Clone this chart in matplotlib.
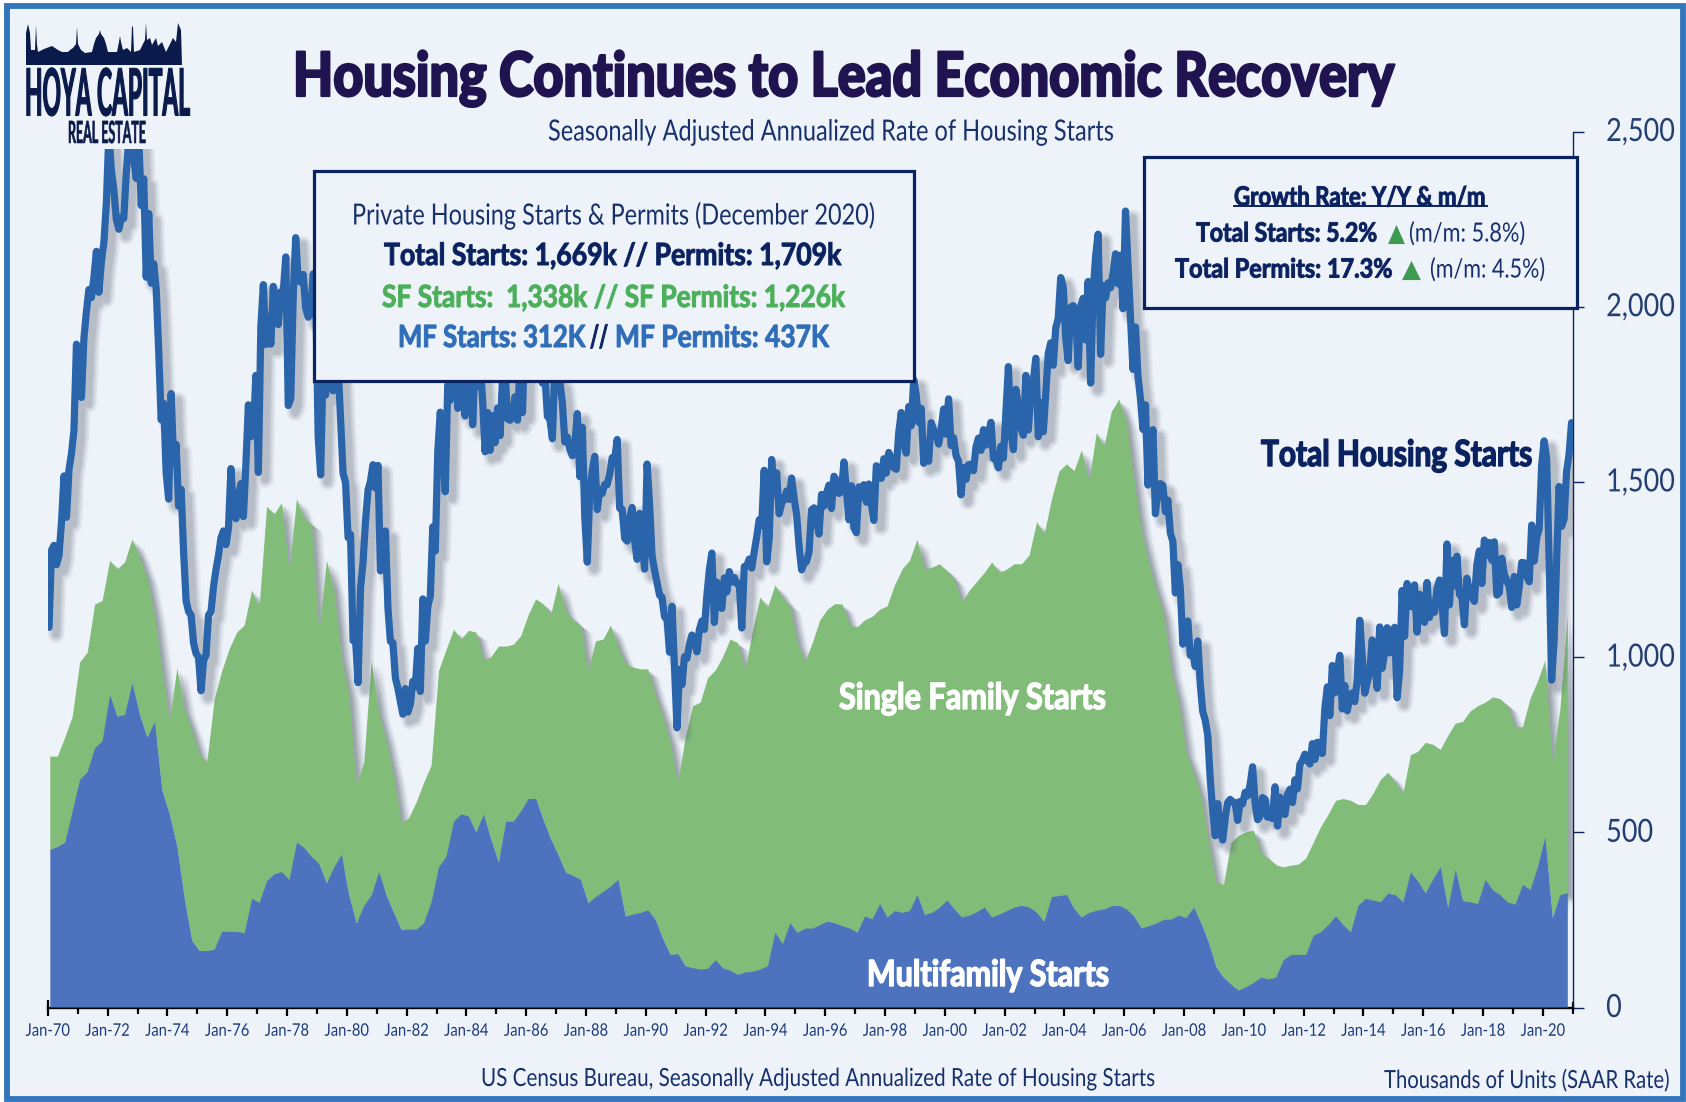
import numpy as np
import matplotlib
matplotlib.use("Agg")
import matplotlib.pyplot as plt
from matplotlib.patches import Rectangle, Polygon
from matplotlib.lines import Line2D
from matplotlib.patheffects import AbstractPathEffect, SimpleLineShadow, SimplePatchShadow, Normal
from matplotlib.transforms import Affine2D, Bbox

W, H = 1686, 1102

# ---------- data (thousands of units, SAAR) ----------
total_starts = [
 1085,1305,1319,1264,1290,1385,1517,1399,1534,1580,1647,1893,
 1828,1741,1910,1986,2049,2026,2083,2158,2041,2128,2182,2295,
 2494,2390,2334,2249,2221,2254,2252,2382,2481,2485,2421,2366,
 2481,2289,2365,2084,2266,2067,2123,2051,1874,1677,1724,1526,
 1451,1752,1555,1607,1431,1479,1300,1160,1130,1120,1040,1010,
 1000,904,990,1005,1120,1130,1200,1250,1290,1340,1360,1321,
 1367,1538,1421,1395,1459,1495,1401,1550,1720,1629,1641,1804,
 1527,1943,2063,1892,1971,1893,2058,2020,1949,2042,2042,2142,
 1718,1738,2032,2197,2075,2070,2092,1996,1970,1981,2094,2044,
 1630,1520,1847,1748,1876,1913,1760,1778,1832,1681,1524,1498,
 1341,1350,1047,1051,927,1196,1269,1387,1476,1502,1549,1482,
 1547,1246,1306,1360,1140,1045,1041,940,911,873,837,910,
 843,866,931,917,1025,902,1166,1046,1144,1173,1372,1303,
 1586,1699,1606,1472,1776,1733,1785,1910,1710,1715,1785,1688,
 1897,2260,1663,1851,1774,1843,1732,1586,1698,1590,1689,1612,
 1711,1632,1800,1821,1680,1676,1684,1743,1676,1834,1698,1942,
 1972,1848,1876,1933,1854,1847,1782,1807,1687,1681,1623,1833,
 1774,1784,1726,1614,1628,1594,1575,1605,1695,1515,1656,1400,
 1271,1473,1532,1573,1421,1478,1467,1493,1492,1522,1569,1563,
 1621,1425,1422,1339,1331,1397,1427,1332,1279,1410,1351,1251,
 1551,1437,1289,1248,1212,1177,1171,1115,1110,1014,1145,969,
 798,965,921,1001,996,1036,1063,1049,1015,1079,1103,1079,
 1176,1250,1297,1099,1214,1145,1139,1226,1186,1244,1214,1227,
 1210,1210,1083,1258,1260,1280,1254,1300,1343,1392,1376,1533,
 1272,1337,1564,1465,1526,1409,1439,1450,1474,1450,1511,1455,
 1407,1316,1249,1267,1273,1300,1420,1426,1390,1351,1464,1431,
 1467,1491,1424,1516,1504,1467,1472,1557,1475,1392,1489,1370,
 1355,1486,1457,1492,1442,1494,1437,1390,1546,1520,1510,1566,
 1525,1584,1567,1540,1536,1641,1698,1614,1582,1715,1660,1792,
 1748,1670,1710,1553,1611,1559,1669,1648,1635,1608,1648,1708,
 1636,1737,1604,1626,1575,1559,1463,1541,1507,1549,1551,1532,
 1600,1625,1590,1649,1605,1636,1670,1567,1562,1540,1602,1568,
 1698,1829,1642,1592,1764,1717,1655,1633,1804,1648,1753,1788,
 1853,1629,1726,1643,1751,1867,1897,1833,1939,1967,2083,2057,
 1911,1846,1998,2003,1981,1828,2002,2024,1905,2072,1782,2042,
 2144,2207,1864,2061,2025,2068,2054,2095,2151,2065,2147,1994,
 2273,2119,1969,1821,1942,1802,1737,1650,1720,1491,1570,1649,
 1409,1480,1495,1490,1415,1448,1354,1330,1183,1264,1197,1037,
 1084,1103,1005,1013,973,1046,923,844,820,777,652,560,
 490,582,505,478,540,585,594,586,585,534,588,581,
 614,604,636,687,583,536,546,599,594,543,545,539,
 630,518,600,553,551,608,623,585,650,624,694,705,
 723,704,695,753,708,757,728,725,854,915,833,976,
 898,960,1005,852,919,847,883,898,873,936,1105,1003,
 897,928,955,1049,996,911,1086,968,1014,1084,1012,1070,
 1085,884,961,1190,1059,1210,1145,1144,1206,1071,1179,1149,
 1099,1213,1113,1155,1128,1195,1220,1150,1067,1323,1149,1276,
 1203,1288,1179,1172,1092,1225,1185,1172,1159,1265,1303,1210,
 1334,1290,1327,1276,1329,1177,1184,1282,1237,1217,1202,1142,
 1230,1149,1199,1270,1269,1233,1215,1377,1274,1340,1365,1547,
 1617,1567,1276,934,1046,1272,1487,1373,1394,1530,1578,1669]

# quarterly, 1970 Q1 .. 2020 Q4
mf_starts = [
 450,458,470,560, 650,672,740,760, 891,830,835,925, 836,770,814,620,
 551,460,310,190, 161,161,165,216, 216,216,212,310, 298,360,380,386,
 364,470,455,430, 410,355,400,436, 320,240,290,320, 386,320,270,222,
 222,222,240,300, 400,430,530,551, 545,500,550,480, 414,530,530,560,
 595,595,535,480, 435,385,375,364, 298,315,330,345, 364,260,265,270,
 277,250,195,150, 152,118,112,108, 110,135,112,105, 93,100,102,108,
 118,213,181,240, 213,225,225,235, 245,240,232,225, 213,260,251,295,
 257,275,270,275, 321,265,270,285, 305,280,257,262, 272,285,257,265,
 275,285,290,285, 270,245,315,318, 321,282,257,270, 276,280,289,290,
 280,260,226,232, 240,250,251,262, 255,285,240,185, 115,85,65,48,
 58,70,85,80, 85,135,150,150, 150,205,215,235, 260,235,215,290,
 310,305,300,325, 320,300,385,360, 326,365,400,285, 392,304,300,295,
 364,335,320,300, 293,350,335,400, 485,255,320,326]
sf_starts = [
 266,258,300,270, 335,340,410,400, 384,420,435,411, 450,455,306,340,
 264,508,540,600, 560,539,715,744, 807,854,878,880, 845,1069,1027,1054,
 879,981,941,948, 657,920,793,564, 570,393,410,670, 454,440,390,303,
 318,363,400,390, 560,590,548,499, 530,570,440,520, 616,500,505,500,
 525,570,615,640, 775,745,730,726, 662,730,720,745, 666,720,705,695,
 688,640,635,605, 488,652,748,762, 830,826,888,945, 947,860,973,1062,
 1022,992,989,905, 827,760,815,870, 890,911,918,865, 872,845,864,840,
 888,930,980,1000, 1014,985,985,980, 940,940,898,928, 943,955,1013,975,
 975,980,975,1005, 1115,1105,1135,1212, 1229,1248,1333,1230, 1364,1320,1411,1445,
 1390,1250,1134,1038, 950,870,709,608, 470,385,360,285, 240,265,405,442,
 442,435,355,345, 320,265,255,258, 275,265,300,315, 330,360,375,288,
 268,305,350,345, 320,310,335,370, 429,385,335,490, 418,511,545,565,
 506,550,560,560, 507,450,545,530, 505,439,530,794]

year_labels = ['70','72','74','76','78','80','82','84','86','88','90','92','94','96','98',
               '00','02','04','06','08','10','12','14','16','18','20']
y_ticks = [0, 500, 1000, 1500, 2000, 2500]

# ---------- colours ----------
BG = '#EEF3FA'; BORDER = '#3275BC'; NAVY = '#0B2260'; TITLE = '#1F1450'
LINE = '#2A64AB'; SF = '#81BD78'; MF = '#4E73BE'; GREEN_T = '#4CAF5A'; BLUE_T = '#2F6DB8'
TICKT = '#223F72'; TRI = '#3E9A4E'

plt.rcParams['font.family'] = ['Lato', 'DejaVu Sans']


class Condense(AbstractPathEffect):
    """Draw a text narrower (the source face is a condensed one), optionally a little heavier."""
    def __init__(self, sx, cx, dy=0, heavy=0):
        super().__init__()
        self.sx, self.cx, self.dy, self.heavy = sx, cx, dy, heavy

    def draw_path(self, renderer, gc, tpath, affine, rgbFace=None):
        a = affine + Affine2D().translate(-self.cx, 0).scale(self.sx, 1).translate(self.cx, self.dy)
        if self.heavy:
            g = renderer.new_gc()
            g.copy_properties(gc)
            g.set_linewidth(self.heavy)
            g.set_foreground(rgbFace)
            g.set_joinstyle('round')
            renderer.draw_path(g, tpath, a, rgbFace)
            g.restore()
        else:
            renderer.draw_path(gc, tpath, a, rgbFace)


fig = plt.figure(figsize=(W / 100, H / 100), dpi=100, facecolor='white')
renderer = fig.canvas.get_renderer()


def fx(x): return x / W
def fy(y): return 1 - y / H


def condense(t, sx, cx, dy=0, heavy=0):
    t.set_path_effects([Condense(sx, cx, dy, heavy)])
    orig = t.get_window_extent

    def extent(renderer=None, dpi=None):
        b = orig(renderer, dpi)
        return Bbox.from_extents(cx + (b.x0 - cx) * sx, b.y0 + dy, cx + (b.x1 - cx) * sx, b.y1 + dy)
    t.get_window_extent = extent


def label(x0, x1, yc, s, size, color=NAVY, weight='normal', family=None, z=30, heavy=0):
    em = size * 100 / 72
    kw = {'family': family} if family else {}
    t = fig.text(fx(x0), fy(yc + 0.36 * em), s, fontsize=size, color=color, weight=weight,
                 ha='left', va='baseline', zorder=z, **kw)
    w = t.get_window_extent(renderer).width
    condense(t, (x1 - x0) / w, x0, heavy=heavy)
    return t


def box(x0, y0, x1, y1, lw=3.2, ec='#0B2260', fc=BG, z=20):
    fig.add_artist(Rectangle((fx(x0), fy(y1)), (x1 - x0) / W, (y1 - y0) / H, transform=fig.transFigure,
                             fc=fc, ec=ec, lw=lw * 0.72, zorder=z))


# frame
fig.add_artist(Rectangle((fx(6.8), fy(1098.5)), (1683 - 6.8) / W, (1098.5 - 6) / H, transform=fig.transFigure,
                         fc=BG, ec=BORDER, lw=4.2, zorder=-5))

ax = fig.add_axes([47.8 / W, (H - 1007.5) / H, 1525 / W, 876 / H], facecolor='none', zorder=5)

months = np.arange(len(total_starts)) + 0.5
quarters = np.arange(len(mf_starts)) * 3 + 1.0

polys = ax.stackplot(quarters, mf_starts, sf_starts, colors=[MF, SF], lw=0)
polys[0].set_zorder(3)
polys[1].set_zorder(2)
polys[1].set_path_effects([
    SimplePatchShadow(offset=(8, -6), shadow_rgbFace='#808890', alpha=0.10),
    SimplePatchShadow(offset=(6.5, -5), shadow_rgbFace='#808890', alpha=0.16),
    SimplePatchShadow(offset=(5, -4), shadow_rgbFace='#808890', alpha=0.22),
    SimplePatchShadow(offset=(3.5, -3), shadow_rgbFace='#808890', alpha=0.30),
    SimplePatchShadow(offset=(2, -2), shadow_rgbFace='#808890', alpha=0.35),
    Normal()])

shadow = [SimpleLineShadow(offset=(5, -5), shadow_color='#6c7480', alpha=a, linewidth=w)
          for a, w in ((0.06, 13), (0.08, 11), (0.10, 9), (0.12, 7), (0.14, 5))]
ax.plot(months, total_starts, color=LINE, lw=5.2, solid_joinstyle='round', solid_capstyle='round',
        zorder=6, path_effects=shadow + [Normal()])

ax.set_xlim(0, 612)
ax.set_ylim(0, 2500)
ax.set_xticks(np.arange(len(year_labels)) * 24)
ax.set_xticklabels(['Jan-' + y for y in year_labels])
ax.set_xticks(np.arange(len(year_labels)) * 24 + 12, minor=True)
ax.tick_params(axis='x', which='major', direction='inout', length=12, width=1.6, color='black',
               labelsize=12.5, labelcolor='#1C3A7A', pad=5)
ax.tick_params(axis='x', which='minor', direction='inout', length=9, width=1.6, color='black')
ax.yaxis.tick_right()
ax.set_yticks(y_ticks)
ax.set_yticklabels([f'{v:,}' for v in y_ticks])
ax.tick_params(axis='y', direction='out', length=8, width=1, color=NAVY, labelsize=23,
               labelcolor=TICKT, pad=16)
for s in ('top', 'left'):
    ax.spines[s].set_visible(False)
ax.spines['bottom'].set_linewidth(1.7)
ax.spines['bottom'].set_color('black')
ax.spines['right'].set_linewidth(1)
ax.spines['right'].set_color(NAVY)

for t in ax.get_xticklabels():
    e = t.get_window_extent(renderer)
    condense(t, 44.5 / e.width, (e.x0 + e.x1) / 2)
sx_y = None
for t in ax.get_yticklabels():
    e = t.get_window_extent(renderer)
    if t.get_text() == '2,500':
        sx_y = 69 / e.width
for t in ax.get_yticklabels():
    e = t.get_window_extent(renderer)
    condense(t, sx_y, e.x0, dy=2.5)

# logo backing and logo
fig.add_artist(Rectangle((fx(10), fy(149)), 150 / W, 139 / H, transform=fig.transFigure, fc=BG, ec='none', zorder=10))
fig.add_artist(Rectangle((fx(160), fy(130)), 30 / W, 120 / H, transform=fig.transFigure, fc=BG, ec='none', zorder=10))
skyline = [(26, 65), (26, 33), (28, 24), (30, 33), (31, 50), (35, 50), (36, 25), (37, 45), (38, 52), (44, 49), (52, 46),
           (58, 50), (62, 52), (68, 52), (70, 50), (73, 48), (76, 44), (77, 27), (78, 44), (81, 50), (85, 53), (92, 52),
           (94, 44), (96, 38), (99, 34), (100, 30), (101, 34), (104, 38), (106, 44), (108, 52), (117, 52), (119, 42),
           (120, 36), (121, 42), (123, 50), (127, 48), (131, 52), (132, 26), (133, 27), (134, 52), (140, 50), (145, 40),
           (146, 23), (147, 40), (150, 38), (152, 45), (156, 38), (158, 46), (162, 42), (166, 52), (170, 44), (173, 38),
           (176, 42), (178, 23), (181, 30), (182, 65)]
fig.add_artist(Polygon([(fx(a), fy(b)) for a, b in skyline], closed=True, transform=fig.transFigure,
                       fc='#0A1A4A', ec='none', zorder=11))
label(25, 190, 92, 'HOYA CAPITAL', 47, color='#0A1A4A', weight='bold', z=12, heavy=0.8)
label(68, 146, 132, 'REAL ESTATE', 22, color='#0A1A4A', weight='bold', z=12, heavy=0.4)

# titles
label(293, 1395, 74, 'Housing Continues to Lead Economic Recovery', 44, color=TITLE, weight='black', heavy=1.6)
label(548, 1114, 130, 'Seasonally Adjusted Annualized Rate of Housing Starts', 21, color='#17306B')

# summary box
box(314, 171, 914, 381)
label(352, 875, 214, 'Private Housing Starts & Permits (December 2020)', 21, color='#17306B')
label(384, 840, 254, 'Total Starts: 1,669k // Permits: 1,709k', 22, weight='bold', heavy=0.7)
label(382, 844, 296, 'SF Starts:  1,338k // SF Permits: 1,226k', 22, color=GREEN_T, weight='bold', heavy=0.7)
label(398, 585, 336, 'MF Starts: 312K', 22, color=BLUE_T, weight='bold', heavy=0.7)
label(590, 608, 336, '//', 22, weight='bold', heavy=0.7)
label(615, 829, 336, 'MF Permits: 437K', 22, color=BLUE_T, weight='bold', heavy=0.7)

# growth box
box(1144, 157, 1576.5, 308)
label(1234, 1485, 196, 'Growth Rate: Y/Y & m/m', 19, weight='bold', heavy=0.7)
fig.add_artist(Line2D([fx(1234), fx(1487)], [fy(206), fy(206)], transform=fig.transFigure, color=NAVY, lw=1.4, zorder=30))
label(1196, 1377, 232, 'Total Starts: 5.2%', 19, weight='bold', heavy=0.7)
label(1388, 1405, 232, '▲', 18, color=TRI, family='DejaVu Sans')
label(1409, 1525, 232, '(m/m: 5.8%)', 19, color='#17306B')
label(1175, 1392, 268, 'Total Permits: 17.3%', 19, weight='bold', heavy=0.7)
label(1402, 1421, 268, '▲', 18, color=TRI, family='DejaVu Sans')
label(1430, 1545, 268, '(m/m: 4.5%)', 19, color='#17306B')

# series labels
label(1261, 1532, 453, 'Total Housing Starts', 26, weight='bold', heavy=1.0)
label(839, 1106, 696, 'Single Family Starts', 26, color='white', weight='bold', heavy=1.0)
label(867, 1109, 973, 'Multifamily Starts', 26, color='white', weight='bold', heavy=1.0)

# footers
label(481, 1154, 1077, 'US Census Bureau, Seasonally Adjusted Annualized Rate of Housing Starts', 18, color='#17306B')
label(1384, 1669, 1079, 'Thousands of Units (SAAR Rate)', 18, color='#17306B')

fig.savefig('out.png', dpi=100, facecolor='white')
